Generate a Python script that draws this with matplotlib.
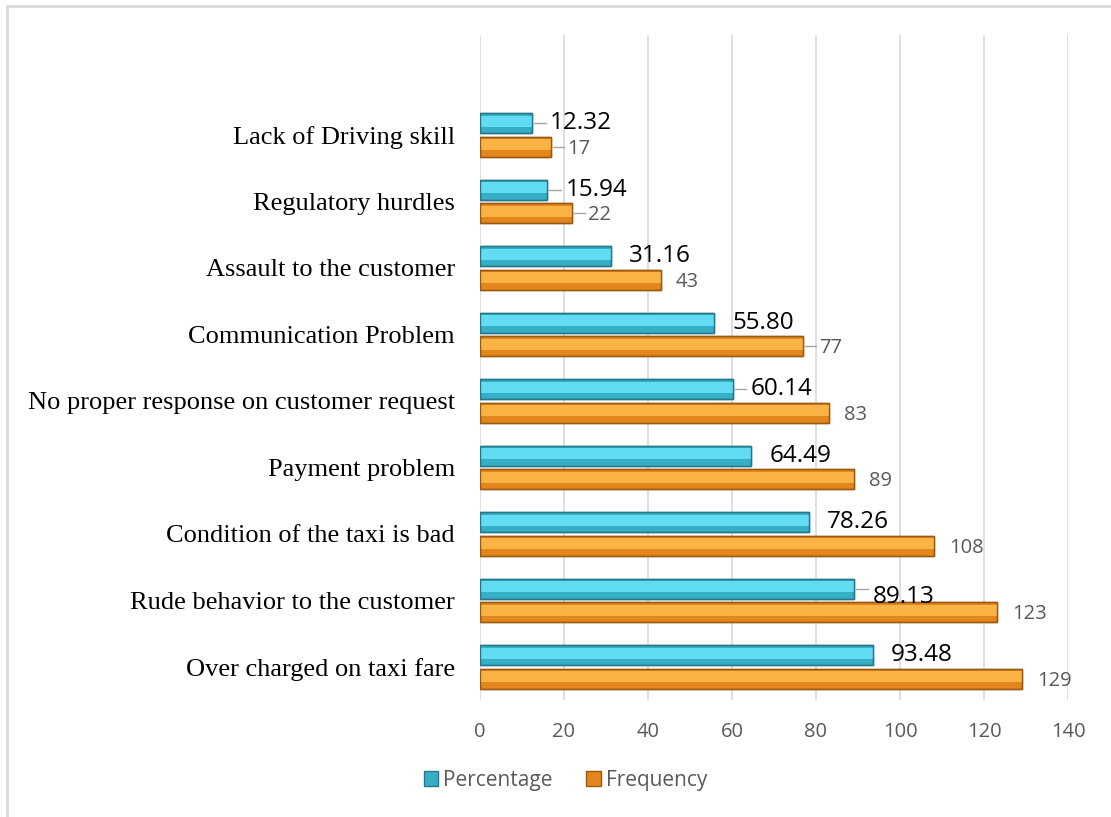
import matplotlib.pyplot as plt
import numpy as np
from matplotlib.patches import Patch, Rectangle

# data (bottom to top)
categories = ["Over charged on taxi fare", "Rude behavior to the customer",
              "Condition of the taxi is bad", "Payment problem",
              "No proper response on customer request", "Communication Problem",
              "Assault to the customer", "Regulatory hurdles", "Lack of Driving skill"]
percentage = [93.48, 89.13, 78.26, 64.49, 60.14, 55.80, 31.16, 15.94, 12.32]
frequency = [129, 123, 108, 89, 83, 77, 43, 22, 17]
pct_labels = ["93.48", "89.13", "78.26", "64.49", "60.14", "55.80", "31.16", "15.94", "12.32"]
x_ticks = [0, 20, 40, 60, 80, 100, 120, 140]

CYAN, CYAN_HI, CYAN_EDGE = "#35aec6", "#62dcf2", "#25788c"
ORANGE, ORANGE_HI, ORANGE_EDGE = "#e3871c", "#f9b445", "#9a5a12"
GRID = "#d9d9d9"
TXT_GRAY = "#595959"

fig = plt.figure(figsize=(11.11, 8.17), dpi=100)
ax = fig.add_axes([0.432, 0.143, 0.9613 - 0.432, 0.957 - 0.143])

y = np.arange(len(categories))
h = 0.30
off = 0.175


def bevel_bars(ypos, vals, base, hi, edge):
    ax.barh(ypos, vals, height=h, color=base, edgecolor=edge, linewidth=1.0, zorder=3)
    # lighter upper band for the glossy look
    ax.barh(ypos + h * 0.10, vals, height=h * 0.55, color=hi, linewidth=0, zorder=4)
    ax.barh(ypos, vals, height=h, color="none", edgecolor=edge, linewidth=1.0, zorder=5)


bevel_bars(y + off, percentage, CYAN, CYAN_HI, CYAN_EDGE)
bevel_bars(y - off, frequency, ORANGE, ORANGE_HI, ORANGE_EDGE)

# data labels
leader_pct = {1, 4, 7, 8}
leader_freq = {5, 7, 8}
for i in range(len(categories)):
    p, f = percentage[i], frequency[i]
    if i in leader_pct:
        ax.plot([p + 0.5, p + 3.3], [y[i] + off, y[i] + off], color="#a6a6a6", lw=1, zorder=2)
    yy = y[i] + off - (0.12 if i == 1 else 0)
    ax.text(p + 4.4, yy, pct_labels[i], va="center", ha="left", fontsize=17.5,
            family="Open Sans", color="black", zorder=6)
    if i in leader_freq:
        ax.plot([f + 0.5, f + 3.0], [y[i] - off, y[i] - off], color="#a6a6a6", lw=1, zorder=2)
    ax.text(f + 3.7, y[i] - off - 0.03, str(f), va="center", ha="left", fontsize=14.5,
            family="Open Sans", color=TXT_GRAY, zorder=6)

ax.set_xlim(0, 140)
ax.set_ylim(-0.5, 9.5)
ax.set_xticks(x_ticks)
ax.set_xticklabels([str(t) for t in x_ticks], fontsize=14.5, family="Open Sans", color=TXT_GRAY)
ax.set_yticks(y)
ax.set_yticklabels(categories, fontsize=19, family="Liberation Serif", color="black")
ax.tick_params(axis="y", length=0, pad=18)
ax.tick_params(axis="x", length=0, pad=16)
ax.grid(axis="x", color=GRID, lw=1.2, zorder=0)
ax.set_axisbelow(True)
for s in ax.spines.values():
    s.set_visible(False)

handles = [Patch(facecolor=CYAN, edgecolor=CYAN_EDGE, label="Percentage"),
           Patch(facecolor=ORANGE, edgecolor=ORANGE_EDGE, label="Frequency")]
fig.legend(handles=handles, loc="center", bbox_to_anchor=(0.509, 0.045), ncol=2,
           frameon=False, prop={"family": "Open Sans", "size": 15}, labelcolor=TXT_GRAY,
           handlelength=0.7, handleheight=0.7, handletextpad=0.25, columnspacing=1.6)

# outer chart frame (runs off the right and bottom edges)
fig.patches.append(Rectangle((7 / 1111, -0.1), 1.2, 1 - 6 / 817 + 0.1, transform=fig.transFigure,
                             fill=False, edgecolor=GRID, lw=2))

fig.savefig("out.png", dpi=100)
